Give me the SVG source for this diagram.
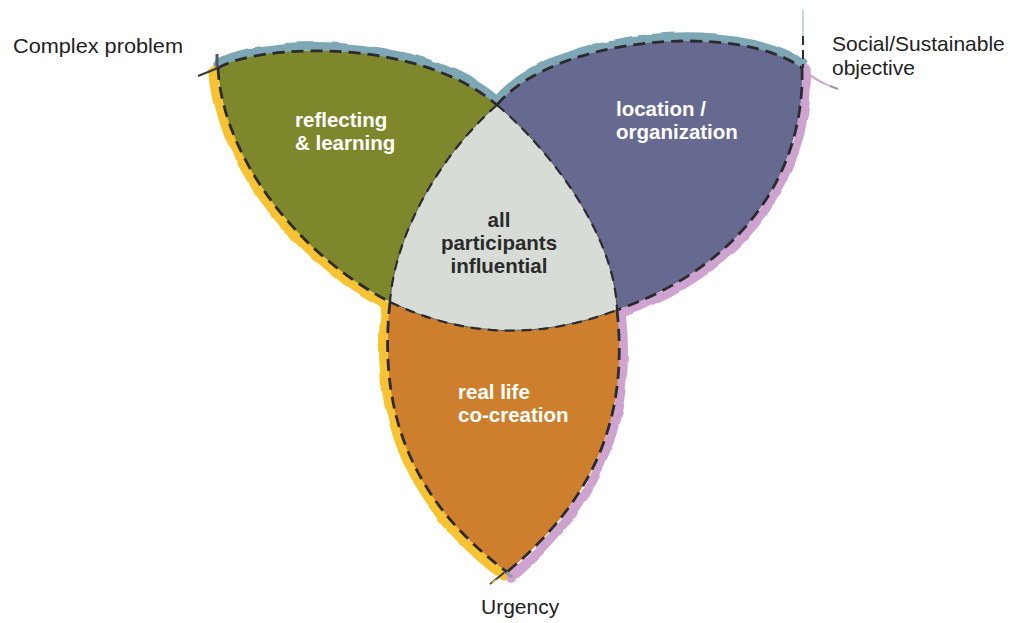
<svg xmlns="http://www.w3.org/2000/svg" width="1010" height="623" viewBox="0 0 1010 623">
  <defs>
    <filter id="rough" x="-10%" y="-10%" width="120%" height="120%">
      <feTurbulence type="fractalNoise" baseFrequency="0.035" numOctaves="2" seed="7" result="n"/>
      <feDisplacementMap in="SourceGraphic" in2="n" scale="5" xChannelSelector="R" yChannelSelector="G"/>
    </filter>
    <style>
      .band { fill: none; stroke-width: 9.5; stroke-linejoin: round; stroke-linecap: round; }
      .blue { stroke: #7ea7b6; }
      .yellow { stroke: #f7c332; }
      .pink { stroke: #cfa3d0; }
      .dash { fill: none; stroke: #2d2a2d; stroke-width: 2.8; stroke-dasharray: 12 7; }
      .edge { fill: none; stroke: #3a3a30; stroke-width: 0.8; }
      .dash-in { fill: none; stroke: #2d2a2d; stroke-width: 2.2; stroke-dasharray: 10 7; }
      .lbl { font-family: "Liberation Sans", Arial, sans-serif; font-weight: 700; font-size: 20.5px; fill: #ffffff; }
      .mid { font-family: "Liberation Sans", Arial, sans-serif; font-weight: 700; font-size: 20.5px; fill: #2a2a2a; text-anchor: middle; }
      .out { font-family: "Liberation Sans", Arial, sans-serif; font-size: 21px; fill: #222222; }
    </style>
  </defs>

  <!-- coloured hand-drawn outlines along the outer edges -->
  <g id="outlines" filter="url(#rough)">
    <path class="band blue" d="M218,64 C255,41 415,31 497,101"/>
    <path class="band blue" d="M497,101 C555,31 740,18 802,64"/>
    <path class="band yellow" d="M214,70 C218,150 286,253 386,305"/>
    <path class="band yellow" d="M386,305 C374,410 406,503 504,576"/>
    <path class="band pink" d="M806,70 C809,172 749,268 621,313"/>
    <path class="band pink" d="M621,313 C632,412 604,499 511,577"/>
  </g>

  <!-- small tails at the three tips -->
  <g id="tails">
    <path d="M212,70 L222,68 L220,82 Z" fill="#f7c332"/>
    <path d="M218,68 L198,76" stroke="#3a3a3a" stroke-width="2" fill="none"/>
    <path d="M217,54 L217,68" stroke="#55585a" stroke-width="3" fill="none"/>
    <path d="M803,10 L803,40" stroke="#b9c9cf" stroke-width="1.5" fill="none"/>
    <path d="M803,36 L803,68" stroke="#2f2b2e" stroke-width="2" stroke-dasharray="9 5" fill="none"/>
    <path d="M802,68 C812,76 826,84 838,89 C826,86 812,80 802,70 Z" fill="#cfa3d0"/>
    <path d="M830,86 L838,89" stroke="#9a9a9a" stroke-width="2" fill="none"/>
    <path d="M505,572 L490,584" stroke="#3a3a3a" stroke-width="2" fill="none"/>
    <path d="M494,580 L490,584 L499,579 Z" fill="#f7c332"/>
    <path d="M505,572 L512,577" stroke="#9a9a9a" stroke-width="3" fill="none"/>
  </g>

  <!-- petals -->
  <g id="reflecting">
    <path d="M218,68 C255,45 415,35 497,105 C445,150 395,230 390,302 C290,250 222,150 218,68 Z" fill="#7e872c"/>
    <text class="lbl" x="295" y="127">reflecting</text>
    <text class="lbl" x="295" y="150">&amp; learning</text>
  </g>
  <g id="location">
    <path d="M497,105 C555,35 740,22 802,68 C805,170 745,265 617,310 C615,235 550,150 497,105 Z" fill="#666990"/>
    <text class="lbl" x="616" y="116">location /</text>
    <text class="lbl" x="616" y="139">organization</text>
  </g>
  <g id="cocreation">
    <path d="M390,302 C378,410 410,500 507,572 C600,495 628,410 617,310 Q500,355 390,302 Z" fill="#cd7f2e"/>
    <text class="lbl" x="458" y="399">real life</text>
    <text class="lbl" x="458" y="422">co-creation</text>
  </g>
  <g id="center">
    <path d="M497,105 C550,150 615,235 617,310 Q500,355 390,302 C395,230 445,150 497,105 Z" fill="#d7dcd7"/>
    <text class="mid" x="499" y="227">all</text>
    <text class="mid" x="499" y="250">participants</text>
    <text class="mid" x="499" y="273">influential</text>
  </g>

  <!-- dashed boundaries -->
  <g id="connectors">
    <path class="edge" d="M497,105 C445,150 395,230 390,302"/>
    <path class="edge" d="M497,105 C550,150 615,235 617,310"/>
    <path class="edge" d="M390,302 Q500,355 617,310"/>
    <path class="dash" d="M218,68 C255,45 415,35 497,105"/>
    <path class="dash" d="M497,105 C555,35 740,22 802,68"/>
    <path class="dash" d="M218,68 C222,150 290,250 390,302"/>
    <path class="dash" d="M390,302 C378,410 410,500 507,572"/>
    <path class="dash" d="M802,68 C805,170 745,265 617,310"/>
    <path class="dash" d="M617,310 C628,410 600,495 507,572"/>
    <path class="dash-in" d="M497,105 C445,150 395,230 390,302"/>
    <path class="dash-in" d="M497,105 C550,150 615,235 617,310"/>
    <path class="dash-in" d="M390,302 Q500,355 617,310"/>
  </g>

  <!-- outer labels -->
  <g id="labels">
    <text class="out" x="13" y="53" textLength="170" lengthAdjust="spacingAndGlyphs">Complex problem</text>
    <text class="out" x="832" y="51">Social/Sustainable</text>
    <text class="out" x="832" y="75">objective</text>
    <text class="out" x="481" y="614">Urgency</text>
  </g>
</svg>
